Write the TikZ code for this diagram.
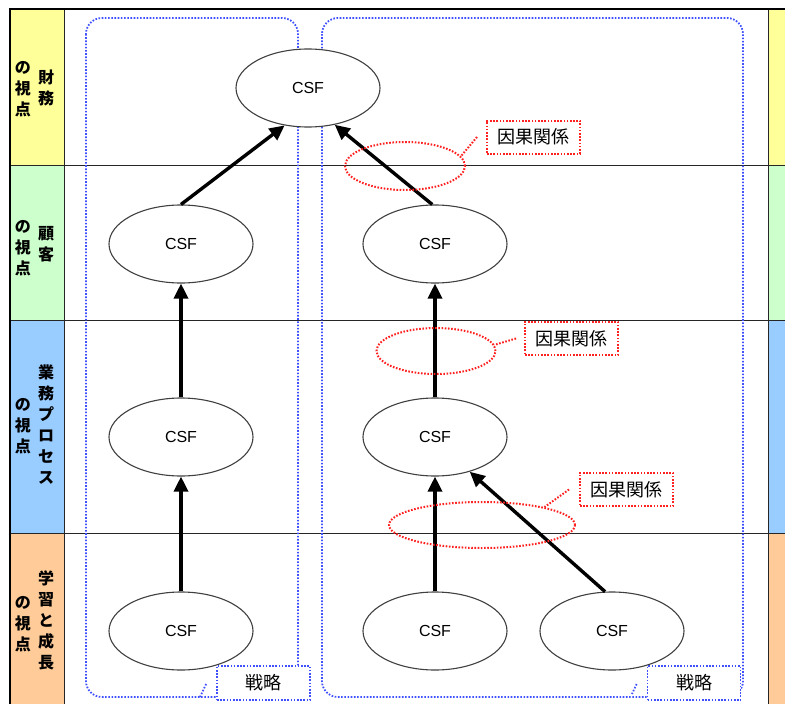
\documentclass[tikz,border=0pt]{standalone}
\usepackage{fontspec}
\setmainfont{Liberation Sans}
\newfontfamily\jpfont{Noto Sans CJK JP}
\usetikzlibrary{arrows.meta,shapes.geometric}

\definecolor{finY}{HTML}{FFFF99}
\definecolor{cusG}{HTML}{CCFFCC}
\definecolor{proB}{HTML}{99CCFF}
\definecolor{lrnO}{HTML}{FFCC99}
\definecolor{stratBlue}{HTML}{4050FF}
\definecolor{causeRed}{HTML}{FF2020}
\definecolor{rimGray}{HTML}{404040}

\tikzset{
  dotline/.style={line width=1.8pt, dash pattern={on 1.6pt off 1.6pt}},
  csf/.style={ellipse, draw=rimGray, line width=1.1pt, fill=white,
    minimum width=144pt, minimum height=78pt, inner sep=0pt,
    font=\fontsize{16}{18}\selectfont},
  link/.style={line width=3.4pt, -{Triangle[length=15pt,width=14pt]}},
  gridline/.style={line width=0.9pt, black!85},
  lbl/.style={align=center, inner sep=0pt,
    font=\jpfont\bfseries\fontsize{16}{21}\selectfont},
  stratframe/.style={draw=stratBlue, dotline, rounded corners=16pt},
  stratbox/.style={draw=stratBlue, dotline, fill=white,
    minimum width=93pt, minimum height=34pt, inner sep=0pt,
    font=\jpfont\fontsize{18}{20}\selectfont},
  causering/.style={ellipse, draw=causeRed, dotline, line width=2pt, inner sep=0pt},
  causebox/.style={draw=causeRed, dotline, line width=2pt, fill=white,
    minimum width=93pt, minimum height=33pt, inner sep=0pt,
    font=\jpfont\fontsize{18}{20}\selectfont},
  causeline/.style={draw=causeRed, dotline, line width=2pt}
}

\begin{document}
\begin{tikzpicture}[x=1pt,y=-1pt]
\useasboundingbox (0,0) rectangle (785,704);
\fill[white] (0,0) rectangle (785,704);

% perspective bands: label column and right strip
\fill[finY] (10,9) rectangle (64,165);
\fill[cusG] (10,165) rectangle (64,320);
\fill[proB] (10,320) rectangle (64,533);
\fill[lrnO] (10,533) rectangle (64,704);
\fill[finY] (768,9) rectangle (785,165);
\fill[cusG] (768,165) rectangle (785,320);
\fill[proB] (768,320) rectangle (785,533);
\fill[lrnO] (768,533) rectangle (785,704);

% grid
\draw[gridline] (10,165) -- (785,165);
\draw[gridline] (10,320) -- (785,320);
\draw[gridline] (10,533) -- (785,533);
\draw[gridline] (64,9) -- (64,704);
\draw[gridline] (768,9) -- (768,704);
\draw[line width=2.4pt] (10,704) -- (10,9) -- (785,9);

% vertical perspective labels
\node[lbl] (finA) at (46,88) {財\\務};
\node[lbl] (finB) at (23,89) {の\\視\\点};
\node[lbl] (cusA) at (46,244) {顧\\客};
\node[lbl] (cusB) at (23,248) {の\\視\\点};
\node[lbl] (proA) at (46,425) {業\\務\\プ\\ロ\\セ\\ス};
\node[lbl] (proB) at (23,426) {の\\視\\点};
\node[lbl] (lrnA) at (46,620) {学\\習\\と\\成\\長};
\node[lbl] (lrnB) at (23,624) {の\\視\\点};

% strategy frames
\draw[stratframe] (86,18) rectangle (298,697);
\draw[stratframe] (322,18) rectangle (743,697);
\node[stratbox] (tagL) at (263.5,683) {戦略};
\node[stratbox] (tagR) at (694,683) {戦略};
\coordinate (tagLfoot) at (200,697);
\coordinate (tagRfoot) at (632,694);
\draw[stratframe] ([xshift=-10pt,yshift=-1pt]tagL.west) -- (tagLfoot);
\draw[stratframe] ([xshift=-10pt,yshift=-1pt]tagR.west) -- (tagRfoot);

% CSF ellipses
\node[csf] (F)  at (308,88)  {CSF};
\node[csf] (L2) at (181,244) {CSF};
\node[csf] (L3) at (181,437) {CSF};
\node[csf] (L4) at (181,631) {CSF};
\node[csf] (R2) at (435,244) {CSF};
\node[csf] (R3) at (435,437) {CSF};
\node[csf] (R4) at (435,631) {CSF};
\node[csf] (S4) at (612,631) {CSF};

% cause and effect links
\draw[link] (L2.north) -- (F.238);
\draw[link] (R2.94) -- (F.306);
\draw[link] (L3.north) -- (L2.south);
\draw[link] (L4.north) -- (L3.south);
\draw[link] (R3.north) -- (R2.south);
\draw[link] (R4.north) -- (R3.south);
\draw[link] (S4.100) -- (R3.315);

% cause and effect callouts
\node[causering, minimum width=120pt, minimum height=48pt] (c1) at (405,166) {};
\node[causering, minimum width=119pt, minimum height=46pt] (c2) at (436,351) {};
\node[causering, minimum width=186pt, minimum height=46pt] (c3) at (482,525) {};
\node[causebox] (b1) at (533.5,137) {因果関係};
\node[causebox] (b2) at (571.5,338.5) {因果関係};
\node[causebox] (b3) at (626.5,489.5) {因果関係};
\draw[causeline] ([xshift=-9pt]b1.west) -- (c1.10);
\draw[causeline] ([xshift=-8pt]b2.west) -- (c2.6);
\draw[causeline] ([xshift=-10pt]b3.west) -- (c3.16);
\end{tikzpicture}
\end{document}
